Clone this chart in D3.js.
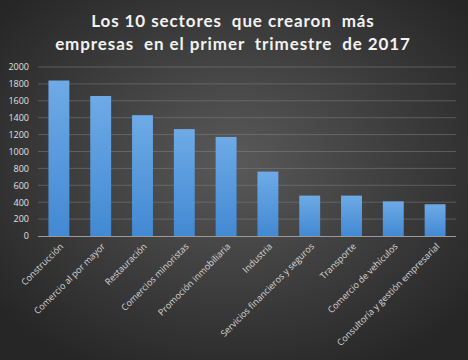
<!DOCTYPE html>
<html><head><meta charset="utf-8">
<script src="https://cdn.jsdelivr.net/npm/d3@7"></script>
<style>html,body{margin:0;padding:0;background:#333;}svg{display:block;}</style>
</head><body>
<script>
const categories = ["Construcción","Comercio al por mayor","Restauración","Comercios minoristas","Promoción inmobiliaria","Industria","Servicios financieros y seguros","Transporte","Comercio de vehículos","Consultoría y gestión empresarial"];
const values = [1840, 1657, 1430, 1265, 1172, 762, 478, 478, 410, 376];
const yTicks = [0,200,400,600,800,1000,1200,1400,1600,1800,2000];
const titleLines = ["Los 10 sectores  que crearon  más", "empresas  en el primer  trimestre  de 2017"];

const W = 468, H = 360;
const svg = d3.select("body").append("svg").attr("width", W).attr("height", H);
const defs = svg.append("defs");
const bg = defs.append("radialGradient").attr("id","bg").attr("cx","50%").attr("cy","45%").attr("r","65%");
bg.append("stop").attr("offset","0%").attr("stop-color","#595959");
bg.append("stop").attr("offset","100%").attr("stop-color","#262626");
const bar = defs.append("linearGradient").attr("id","bar").attr("x1",0).attr("y1",0).attr("x2",0).attr("y2",1);
bar.append("stop").attr("offset","0%").attr("stop-color","#6eaae6");
bar.append("stop").attr("offset","100%").attr("stop-color","#4289d3");

svg.append("rect").attr("width",W).attr("height",H).attr("fill","url(#bg)");

svg.append("g").selectAll("text").data(titleLines).join("text")
  .attr("x", 233).attr("y",(d,i)=>27+i*23)
  .attr("text-anchor","middle")
  .attr("fill","#f2f2f2")
  .attr("font-family","Lato, 'Open Sans', sans-serif")
  .attr("font-weight","bold")
  .attr("font-size",17)
  .attr("letter-spacing","0.9px")
  .style("white-space","pre")
  .text(d=>d);

const x = d3.scaleBand().domain(categories).range([38,456]).paddingInner(0.5).paddingOuter(0.25);
const y = d3.scaleLinear().domain([0,2000]).range([236,67]);

// gridlines
svg.append("g").selectAll("line").data(yTicks.filter(t=>t>0)).join("line")
  .attr("x1",38).attr("x2",456).attr("y1",d=>y(d)).attr("y2",d=>y(d))
  .attr("stroke","#8a8a8a").attr("stroke-opacity",0.45).attr("stroke-width",1);

// y axis labels
const yAxis = d3.axisLeft(y).tickValues(yTicks).tickFormat(d3.format("d")).tickSize(0).tickPadding(0);
const gy = svg.append("g").attr("transform","translate(29,0)").call(yAxis);
gy.select(".domain").remove();
gy.selectAll("text").attr("fill","#e0e0e0").attr("font-family","'Open Sans', sans-serif").attr("font-size",9);

// bars
svg.append("g").selectAll("rect").data(values).join("rect")
  .attr("x",(d,i)=>x(categories[i])).attr("width",x.bandwidth())
  .attr("y",d=>y(d)).attr("height",d=>y(0)-y(d))
  .attr("fill","url(#bar)");

// baseline
svg.append("line").attr("x1",38).attr("x2",456).attr("y1",y(0)+0.5).attr("y2",y(0)+0.5)
  .attr("stroke","#9a9a9a").attr("stroke-width",1.2);

// x axis labels
const xAxis = d3.axisBottom(x).tickSize(0).tickPadding(0);
const gx = svg.append("g").attr("transform",`translate(0,${y(0)})`).call(xAxis);
gx.select(".domain").remove();
gx.selectAll("text")
  .attr("fill","#d8d8d8").attr("font-family","'Open Sans', sans-serif").attr("font-size",9)
  .attr("text-anchor","end")
  .attr("dy",0).attr("y",0)
  .attr("transform","translate(5,11) rotate(-45)");
</script>
</body></html>
